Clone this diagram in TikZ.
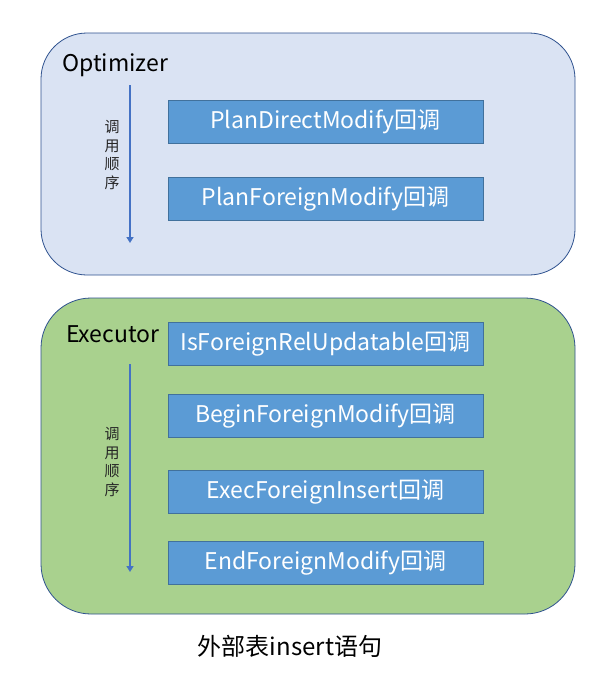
\documentclass[tikz,border=0pt]{standalone}
\usepackage{fontspec}
\setmainfont{Noto Sans CJK SC}
\usetikzlibrary{arrows.meta}
\definecolor{optfill}{HTML}{DAE3F3}
\definecolor{exefill}{HTML}{A9D18E}
\definecolor{frameblue}{HTML}{2F528F}
\definecolor{boxfill}{HTML}{5B9BD5}
\definecolor{boxline}{HTML}{41719C}
\definecolor{arrowblue}{HTML}{4472C4}
\begin{document}
\begin{tikzpicture}[x=1pt,y=-1pt,
  group/.style={draw=frameblue, line width=0.8pt, rounded corners=46pt},
  callbox/.style={draw=boxline, line width=0.8pt, fill=boxfill, minimum width=315pt, minimum height=43pt, inner sep=0pt, text=white, font=\fontsize{23}{27}\selectfont},
  grouplabel/.style={font=\fontsize{23}{27}\selectfont, text=black, anchor=west, inner sep=0pt},
  orderlabel/.style={font=\fontsize{15}{18.5}\selectfont, text=black!85, align=center, inner sep=0pt},
  orderarrow/.style={draw=arrowblue, line width=1.5pt, -{Triangle[length=6pt,width=7pt]}}
]
\useasboundingbox (0,0) rectangle (613,678);
\fill[white] (0,0) rectangle (613,678);
% Optimizer group
\draw[group, fill=optfill] (41,33) rectangle (575,275);
\node[grouplabel] (optlabel) at (62,65) {Optimizer};
\coordinate (optA) at (130,85);
\coordinate (optB) at (130,243);
\draw[orderarrow] (optA) -- (optB);
\node[orderlabel] (optorder) at (112,155) {调\\用\\顺\\序};
\node[callbox] (pdm) at (325.5,121.5) {PlanDirectModify回调};
\node[callbox] (pfm) at (325.5,198.5) {PlanForeignModify回调};
% Executor group
\draw[group, fill=exefill, rounded corners=50pt] (41,298) rectangle (575,614);
\node[grouplabel] (exelabel) at (66,334) {Executor};
\coordinate (exeA) at (130,364);
\coordinate (exeB) at (130,572);
\draw[orderarrow] (exeA) -- (exeB);
\node[orderlabel] (exeorder) at (112,462) {调\\用\\顺\\序};
\node[callbox] (ifru) at (325.5,344) {IsForeignRelUpdatable回调};
\node[callbox] (bfm) at (325.5,416) {BeginForeignModify回调};
\node[callbox] (efi) at (325.5,492) {ExecForeignInsert回调};
\node[callbox] (endfm) at (325.5,563) {EndForeignModify回调};
% caption
\node[font=\fontsize{24}{28}\selectfont, text=black] (caption) at (290,646) {外部表insert语句};
\end{tikzpicture}
\end{document}
